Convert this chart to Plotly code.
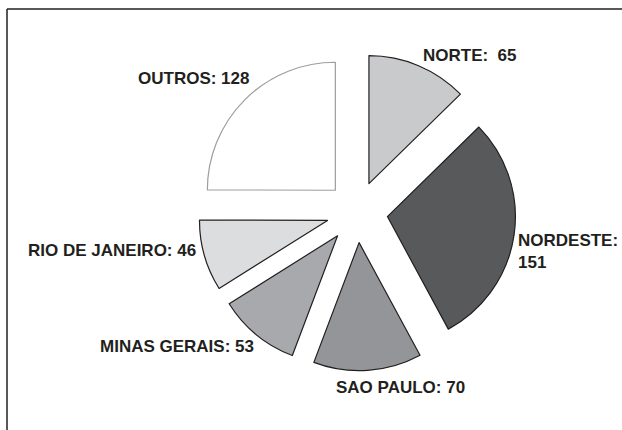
import plotly.graph_objects as go

categories = ["NORTE", "NORDESTE", "SAO PAULO", "MINAS GERAIS", "RIO DE JANEIRO", "OUTROS"]
values = [65, 151, 70, 53, 46, 128]
label_sep = [":  ", ":<br>", ": ", ": ", ": ", ": "]

colors = ["#c9cacc", "#58595b", "#939598", "#a7a9ac", "#dcdddf", "#ffffff"]
border_colors = ["#231f20", "#231f20", "#231f20", "#231f20", "#231f20", "#9d9d9d"]

# label anchor positions (paper coords, left edge / vertical middle)
label_x = [0.6769, 0.8296, 0.5370, 0.1576, 0.0418, 0.2187]
label_y = [0.8698, 0.4140, 0.0977, 0.1953, 0.4163, 0.8186]

W, H = 622, 430

fig = go.Figure(go.Pie(
    labels=categories,
    values=values,
    textinfo="none",
    sort=False,
    direction="clockwise",
    rotation=0,
    pull=[0.24] * len(values),
    marker=dict(colors=colors, line=dict(color=border_colors, width=1.2)),
    domain=dict(x=[0.304, 0.844], y=[0.1379, 0.8761]),
    automargin=False,
    showlegend=False,
    hoverinfo="label+value",
))

annotations = []
for cat, sep, val, lx, ly in zip(categories, label_sep, values, label_x, label_y):
    annotations.append(dict(
        text=f"{cat}{sep}{val}", x=lx, y=ly, xref="paper", yref="paper",
        xanchor="left", yanchor="middle", align="left", showarrow=False,
        font=dict(family="Liberation Sans, Arial, sans-serif", size=17, color="#231f20", weight="bold"),
    ))

frame_x = 7 / W
frame_y = 1 - 9 / H

fig.update_layout(
    width=W, height=H,
    margin=dict(l=0, r=0, t=0, b=0, autoexpand=False),
    paper_bgcolor="white",
    plot_bgcolor="white",
    annotations=annotations,
    shapes=[
        dict(type="line", xref="paper", yref="paper", x0=frame_x, x1=1, y0=frame_y, y1=frame_y,
             line=dict(color="#231f20", width=1.5)),
        dict(type="line", xref="paper", yref="paper", x0=frame_x, x1=frame_x, y0=0, y1=frame_y,
             line=dict(color="#231f20", width=1.5)),
    ],
)

fig.write_html(
    "out.html",
    config={"displayModeBar": False},
    post_script="document.body.style.margin='0';document.documentElement.style.overflow='hidden';document.body.style.overflow='hidden';",
)
